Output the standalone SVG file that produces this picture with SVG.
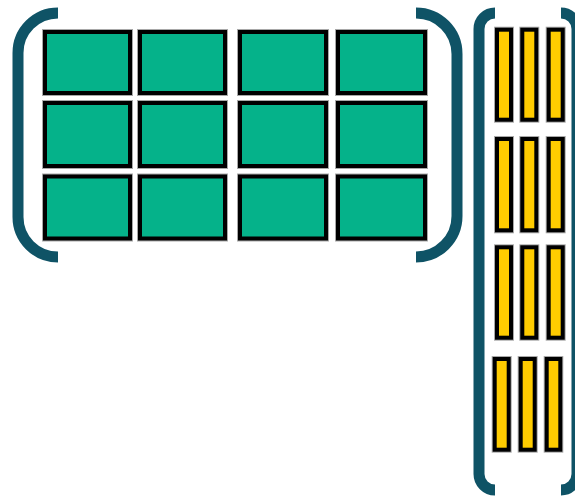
<svg xmlns="http://www.w3.org/2000/svg" width="575" height="497" viewBox="0 0 575 497">
<style>
.br{fill:none;stroke:#0F5366;stroke-width:11;stroke-linecap:butt}
.halo{fill:none;stroke:#A8A8A8;stroke-width:6}
.g{fill:#05B28A;stroke:#000;stroke-width:4}
.y{fill:#FFCC00;stroke:#000;stroke-width:4}
</style>
<rect width="575" height="497" fill="#fff"/>
<g id="brackets">
<path class="br" d="M58,13 A40,40 0 0 0 18,53 L18,217 A40,40 0 0 0 58,257"/>
<path class="br" d="M416,13 A41,41 0 0 1 457,54 L457,216 A41,41 0 0 1 416,257"/>
<path class="br" d="M495,13 A16,16 0 0 0 479,29 L479,474 A16,16 0 0 0 495,490"/>
<path class="br" d="M561,13 A16,16 0 0 1 577,29 L577,474 A16,16 0 0 1 561,490"/>
</g>
<g id="matrix">
<g class="halo">
<rect x="45" y="32" width="85" height="61"/><rect x="140" y="32" width="85" height="61"/><rect x="240" y="32" width="86" height="61"/><rect x="338" y="32" width="87" height="61"/>
<rect x="45" y="103" width="85" height="63"/><rect x="140" y="103" width="85" height="63"/><rect x="240" y="103" width="86" height="63"/><rect x="338" y="103" width="87" height="63"/>
<rect x="45" y="176.5" width="85" height="62"/><rect x="140" y="176.5" width="85" height="62"/><rect x="240" y="176.5" width="86" height="62"/><rect x="338" y="176.5" width="87" height="62"/>
</g>
<rect class="g" x="45" y="32" width="85" height="61"/><rect class="g" x="140" y="32" width="85" height="61"/><rect class="g" x="240" y="32" width="86" height="61"/><rect class="g" x="338" y="32" width="87" height="61"/>
<rect class="g" x="45" y="103" width="85" height="63"/><rect class="g" x="140" y="103" width="85" height="63"/><rect class="g" x="240" y="103" width="86" height="63"/><rect class="g" x="338" y="103" width="87" height="63"/>
<rect class="g" x="45" y="176.5" width="85" height="62"/><rect class="g" x="140" y="176.5" width="85" height="62"/><rect class="g" x="240" y="176.5" width="86" height="62"/><rect class="g" x="338" y="176.5" width="87" height="62"/>
</g>
<g id="vector">
<g class="halo">
<rect x="497" y="29.7" width="14" height="90"/><rect x="522.3" y="29.7" width="14" height="90"/><rect x="548.7" y="29.7" width="14" height="90"/>
<rect x="497" y="139" width="14" height="91.3"/><rect x="522.3" y="139" width="14" height="91.3"/><rect x="548.7" y="139" width="14" height="91.3"/>
<rect x="497" y="247.3" width="14" height="90.4"/><rect x="522.3" y="247.3" width="14" height="90.4"/><rect x="548.7" y="247.3" width="14" height="90.4"/>
<rect x="494.7" y="359" width="14" height="90.7"/><rect x="520.7" y="359" width="14" height="90.7"/><rect x="546.7" y="359" width="13.6" height="90.7"/>
</g>
<rect class="y" x="497" y="29.7" width="14" height="90"/><rect class="y" x="522.3" y="29.7" width="14" height="90"/><rect class="y" x="548.7" y="29.7" width="14" height="90"/>
<rect class="y" x="497" y="139" width="14" height="91.3"/><rect class="y" x="522.3" y="139" width="14" height="91.3"/><rect class="y" x="548.7" y="139" width="14" height="91.3"/>
<rect class="y" x="497" y="247.3" width="14" height="90.4"/><rect class="y" x="522.3" y="247.3" width="14" height="90.4"/><rect class="y" x="548.7" y="247.3" width="14" height="90.4"/>
<rect class="y" x="494.7" y="359" width="14" height="90.7"/><rect class="y" x="520.7" y="359" width="14" height="90.7"/><rect class="y" x="546.7" y="359" width="13.6" height="90.7"/>
</g>
</svg>
